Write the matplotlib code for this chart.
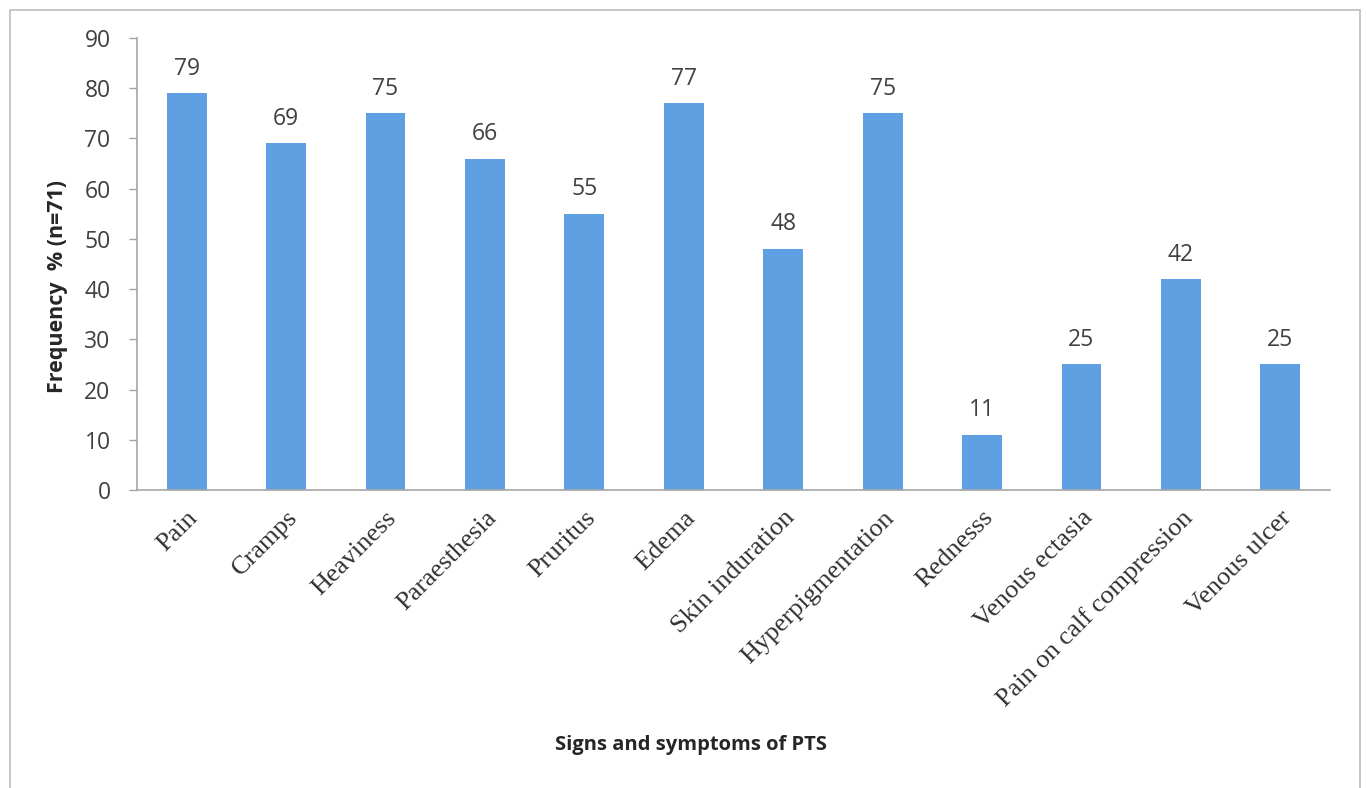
import matplotlib
matplotlib.use("Agg")
import matplotlib.pyplot as plt
from matplotlib.patches import Rectangle

categories = ["Pain", "Cramps", "Heaviness", "Paraesthesia", "Pruritus", "Edema",
              "Skin induration", "Hyperpigmentation", "Rednesss", "Venous ectasia",
              "Pain on calf compression", "Venous ulcer"]
frequency = [79, 69, 75, 66, 55, 77, 48, 75, 11, 25, 42, 25]
y_ticks = [0, 10, 20, 30, 40, 50, 60, 70, 80, 90]

bar_color = "#5FA0E2"
axis_color = "#A6A6A6"
text_color = "#404040"
sans = ["Open Sans", "DejaVu Sans"]
serif = ["Liberation Serif", "DejaVu Serif"]

fig = plt.figure(figsize=(13.67, 7.88), dpi=100)
fig.patch.set_facecolor("white")

# outer frame around the chart area
frame = Rectangle((10 / 1367, -0.05), 1350 / 1367, 1.05 - 10 / 788,
                  transform=fig.transFigure, fill=False, edgecolor="#BDBDBD",
                  linewidth=1.2, clip_on=False)
fig.add_artist(frame)

ax = fig.add_axes([137 / 1367, 1 - 490 / 788, (1330 - 137) / 1367, (490 - 38) / 788])
x = list(range(len(categories)))
ax.bar(x, frequency, width=0.4, color=bar_color, zorder=2)

for xi, v in zip(x, frequency):
    ax.annotate(f"{v}", (xi, v), xytext=(0, 9), textcoords="offset points",
                ha="center", va="bottom", fontsize=16.5, color=text_color,
                family=sans)

ax.set_xlim(-0.5, len(categories) - 0.5)
ax.set_ylim(0, 90)
ax.set_yticks(y_ticks)
ax.set_yticklabels([str(t) for t in y_ticks], family=sans, fontsize=16.5,
                   color=text_color)
ax.tick_params(axis="y", direction="out", length=6, width=1, color=axis_color,
               pad=13)
ax.set_xticks(x)
ax.set_xticklabels(categories, rotation=45, ha="right", va="top",
                   rotation_mode="anchor", family=serif, fontsize=19,
                   color="#303030")
ax.tick_params(axis="x", length=0, pad=12)

for side in ("top", "right"):
    ax.spines[side].set_visible(False)
for side in ("left", "bottom"):
    ax.spines[side].set_color(axis_color)
    ax.spines[side].set_linewidth(1.2)

fig.text(58 / 1367, 1 - 287 / 788, "Frequency  % (n=71)", rotation=90,
         ha="center", va="center", fontsize=15.5, fontweight="bold",
         family=sans, color="#262626")
fig.text(691 / 1367, 1 - 745 / 788, "Signs and symptoms of PTS",
         ha="center", va="center", fontsize=14.5, fontweight="bold",
         family=sans, color="#262626")

fig.savefig("out.png", dpi=100, facecolor="white")
